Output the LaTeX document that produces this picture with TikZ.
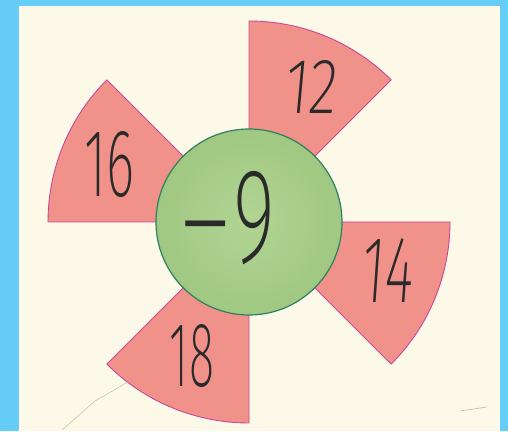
\documentclass[tikz,border=0pt]{standalone}
\usepackage{fontspec}
\usepackage{graphicx}
\IfFontExistsTF{Fira Sans ExtraLight}{\def\handname{Fira Sans ExtraLight}}{%
  \IfFontExistsTF{Fira Sans Light}{\def\handname{Fira Sans Light}}{\def\handname{Latin Modern Sans}}}
\newfontfamily\hand{\handname}
\newfontfamily\handsl{\handname}[FakeSlant=0.12]
\definecolor{bluebg}{HTML}{66CDF6}
\definecolor{paper}{HTML}{FDF9E8}
\definecolor{petalfill}{HTML}{F0928A}
\definecolor{petalline}{HTML}{C9479A}
\definecolor{greenin}{HTML}{B2D493}
\definecolor{greenout}{HTML}{A0C882}
\definecolor{greenline}{HTML}{2E8060}
\definecolor{ink}{HTML}{2A2A2A}
\definecolor{crease}{HTML}{C9B9A2}
\tikzset{
  petal/.style={fill=petalfill, draw=petalline, line width=0.9pt, line join=round},
  hub/.style={circle, minimum size=186pt, inner sep=0pt, draw=greenline, line width=1.2pt,
    inner color=greenin, outer color=greenout},
  num/.style={inner sep=0pt, text=ink, font=\hand},
  numsl/.style={inner sep=0pt, text=ink, font=\handsl},
  creaseline/.style={draw=crease, line width=0.5pt}
}
\begin{document}
\begin{tikzpicture}[x=1pt,y=1pt]
\useasboundingbox (0,0) rectangle (508,431);
\fill[bluebg] (0,0) rectangle (508,431);
\fill[paper] (19,0) rectangle (500,425);
\coordinate (c) at (249,209);
\begin{scope}[shift={(c)}]
  \path[petal] (0,0) -- (45:201) arc[start angle=45, end angle=90, radius=201] -- cycle;
  \path[petal] (0,0) -- (135:201) arc[start angle=135, end angle=180, radius=201] -- cycle;
  \path[petal] (0,0) -- (225:201) arc[start angle=225, end angle=270, radius=201] -- cycle;
  \path[petal] (0,0) -- (315:201) arc[start angle=315, end angle=360, radius=201] -- cycle;
\end{scope}
\node[hub] (hub) at (c) {};
\node[num, anchor=base west] (m9) at (177,168)
  {\fontsize{135pt}{135pt}\selectfont\raisebox{-6pt}{\scalebox{0.85}[1]{−}}\scalebox{0.6}[1]{9}};
\node[numsl] (n12) at (309,344) {\resizebox{52pt}{53pt}{12}};
\node[num] (n16) at (110,266) {\resizebox{50pt}{65pt}{16}};
\node[numsl] (n14) at (386,161) {\resizebox{51pt}{64pt}{14}};
\node[num] (n18) at (192,75) {\resizebox{44pt}{62pt}{18}};
\coordinate (k1) at (62,1);
\coordinate (k2) at (95,30);
\coordinate (k3) at (128,49);
\draw[creaseline] (k1) -- (k2) -- (k3);
\coordinate (s1) at (460,20);
\coordinate (s2) at (487,24);
\draw[crease, line width=0.6pt] (s1) -- (s2);
\end{tikzpicture}
\end{document}
